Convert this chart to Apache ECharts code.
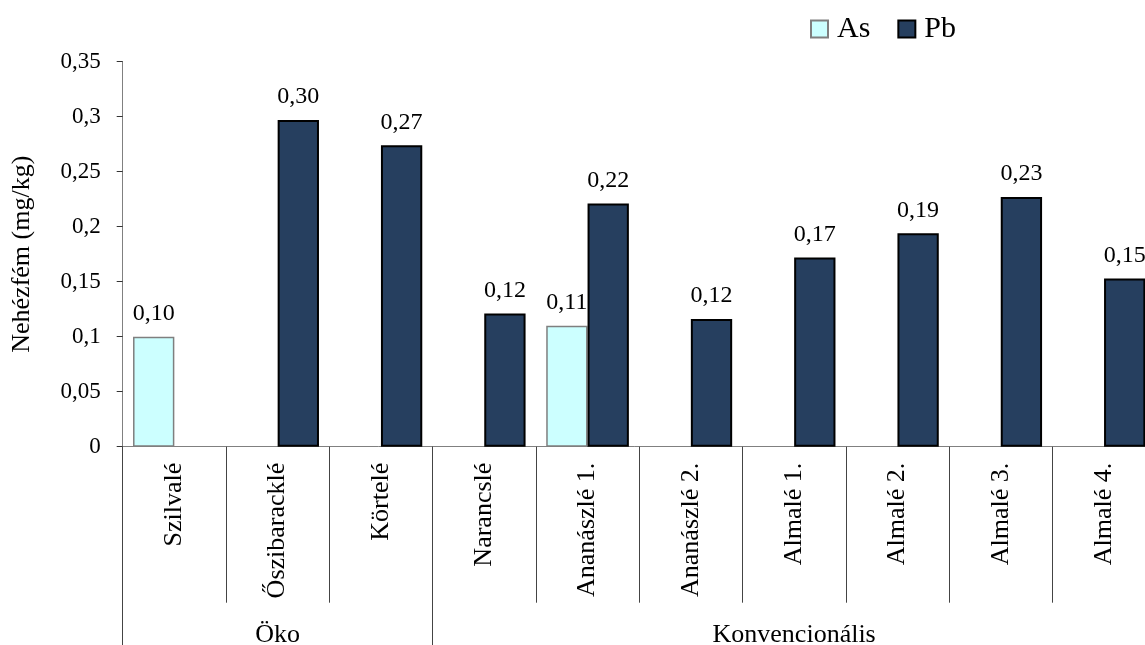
<!DOCTYPE html>
<html>
<head>
<meta charset="utf-8">
<script src="https://cdn.jsdelivr.net/npm/echarts@6/dist/echarts.min.js"></script>
<style>
  html, body { margin: 0; padding: 0; background: #fff; }
  #chart { width: 1145px; height: 645px; }
</style>
</head>
<body>
<div id="chart"></div>
<script>
// Heavy metal content of fruit juices (mg/kg)
const categories = ['Szilvalé', 'Őszibaracklé', 'Körtelé', 'Narancslé', 'Ananászlé 1.',
  'Ananászlé 2.', 'Almalé 1.', 'Almalé 2.', 'Almalé 3.', 'Almalé 4.'];
const asValues = [0.100, null, null, null, 0.110, null, null, null, null, null];
const pbValues = [null, 0.297, 0.274, 0.121, 0.221, 0.116, 0.172, 0.194, 0.227, 0.153];
const groupNames = ['Öko', 'Konvencionális'];
const groupSizes = [3, 7];
const yTicks = { min: 0, max: 0.35, step: 0.05 };

const FONT = "'Liberation Serif', 'Times New Roman', serif";

// group boundaries and centres on a 0..N value scale
const groupEdges = [0];
groupSizes.forEach(n => groupEdges.push(groupEdges[groupEdges.length - 1] + n));
const groupCentres = groupSizes.map((n, i) => groupEdges[i] + n / 2);

const comma = v => String(v).replace('.', ',');
const dataLabel = {
  show: true,
  position: 'top',
  distance: 11,
  fontFamily: FONT,
  fontSize: 24,
  color: '#000',
  formatter: p => comma(p.value.toFixed(2))
};

const chart = echarts.init(document.getElementById('chart'), null, { renderer: 'canvas' });
chart.setOption({
  animation: false,
  backgroundColor: '#fff',
  textStyle: { fontFamily: FONT },
  grid: {
    left: 122.7, right: -10.7, top: 61.7, bottom: 198.3,
    containLabel: false,
    outerBoundsMode: 'none'
  },
  legend: {
    left: 805,
    top: 9,
    icon: 'rect',
    itemWidth: 17,
    itemHeight: 17,
    itemGap: 27,
    textStyle: { fontFamily: FONT, fontSize: 30, color: '#000', padding: [0, 0, 0, 4] },
    data: ['As', 'Pb']
  },
  xAxis: [
    {
      type: 'category',
      data: categories,
      axisLine: { lineStyle: { color: '#808080', width: 1 } },
      axisTick: { show: true, length: 156, lineStyle: { color: '#444', width: 1 } },
      axisLabel: {
        interval: 0,
        rotate: 90,
        margin: 16,
        fontFamily: FONT,
        fontSize: 26,
        color: '#000'
      },
      splitLine: { show: false }
    },
    {
      type: 'value',
      min: 0,
      max: categories.length,
      position: 'bottom',
      axisLine: { show: false },
      axisTick: {
        show: true,
        customValues: groupEdges,
        length: 210,
        lineStyle: { color: '#444', width: 1 }
      },
      axisLabel: {
        customValues: groupCentres,
        margin: 175,
        fontFamily: FONT,
        fontSize: 26,
        color: '#000',
        formatter: v => groupNames[groupCentres.indexOf(v)] || ''
      },
      splitLine: { show: false }
    }
  ],
  yAxis: {
    type: 'value',
    min: yTicks.min,
    max: yTicks.max,
    interval: yTicks.step,
    name: 'Nehézfém (mg/kg)',
    nameLocation: 'middle',
    nameGap: 88,
    nameRotate: 90,
    nameTextStyle: { fontFamily: FONT, fontSize: 26, color: '#000' },
    axisLine: { show: true, lineStyle: { color: '#808080', width: 1 } },
    axisTick: { show: true, length: 6, lineStyle: { color: '#333' } },
    axisLabel: {
      margin: 22,
      fontFamily: FONT,
      fontSize: 23,
      color: '#000',
      formatter: v => v === 0 ? '0' : comma(parseFloat(v.toFixed(2)))
    },
    splitLine: { show: false }
  },
  series: [
    {
      name: 'As',
      type: 'bar',
      data: asValues,
      barGap: '0%',
      barCategoryGap: '20%',
      itemStyle: { color: '#ccffff', borderColor: '#7f7f7f', borderWidth: 1.5 },
      label: dataLabel
    },
    {
      name: 'Pb',
      type: 'bar',
      data: pbValues,
      barGap: '0%',
      barCategoryGap: '20%',
      itemStyle: { color: '#263f5f', borderColor: '#000', borderWidth: 2 },
      label: dataLabel
    }
  ]
});
</script>
</body>
</html>
